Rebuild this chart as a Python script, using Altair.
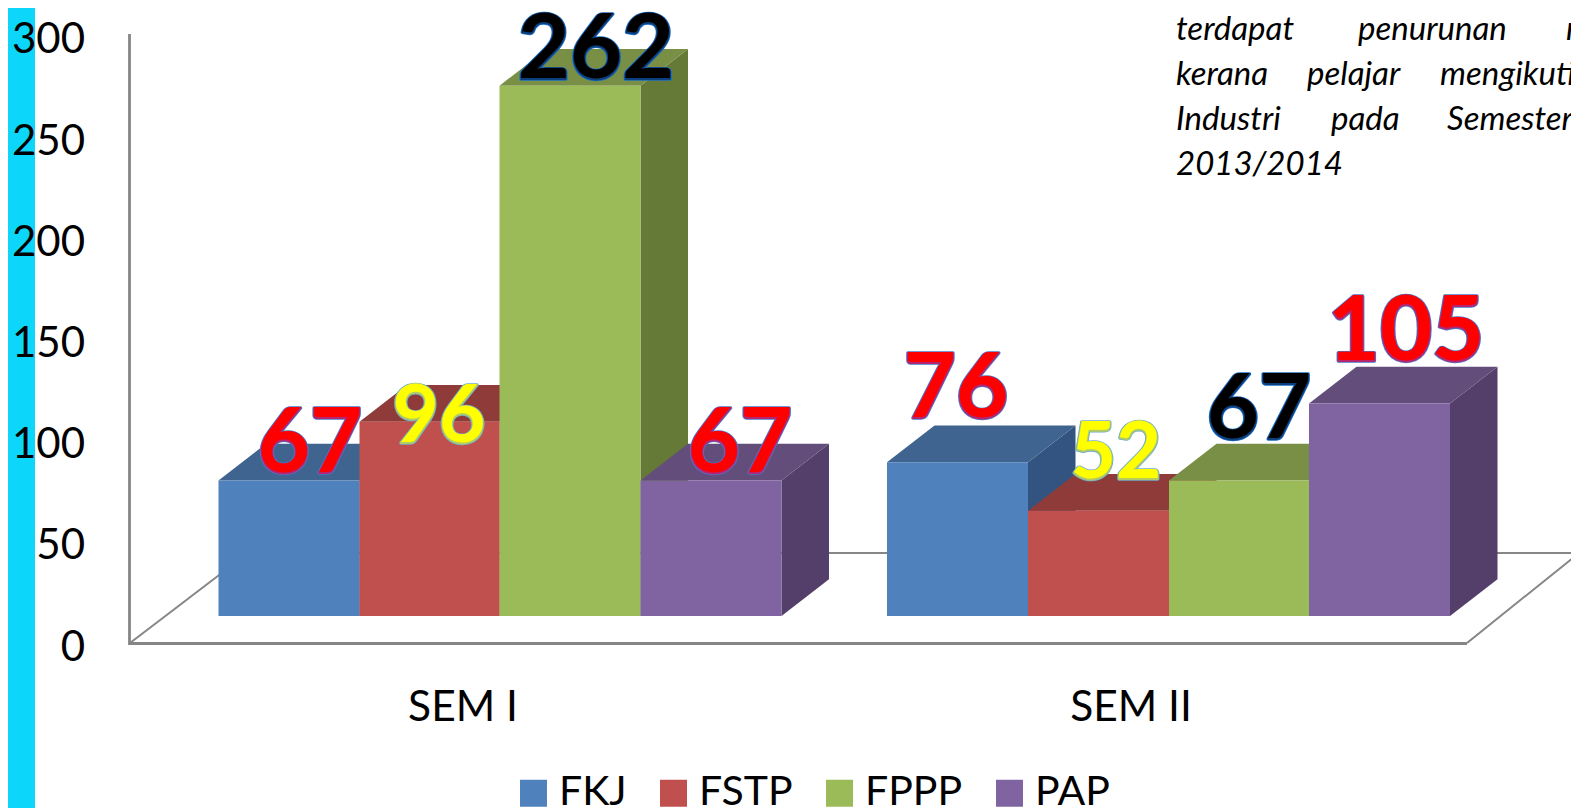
import altair as alt
import pandas as pd

# ---- values ----
SEMESTERS = ["SEM I", "SEM II"]
SERIES = ["FKJ", "FSTP", "FPPP", "PAP"]
SEM1 = [67, 96, 262, 67]
SEM2 = [76, 52, 67, 105]
Y_TICKS = [0, 50, 100, 150, 200, 250, 300]
FRONT = ["#4F81BD", "#C0504D", "#9BBB59", "#8064A2"]
TOP = ["#3E648F", "#8E3B3A", "#788F45", "#634D7B"]
SIDE = ["#335480", "#7D3230", "#667A37", "#533F69"]

# ---- layout (page pixels -> scale units) ----
W, H = 1563, 800
Y0_PAGE, PX_PER_UNIT = 643.0, 2.024
def ux(px): return px - 8
def uy(py): return (Y0_PAGE - py) / PX_PER_UNIT
Y_MIN, Y_MAX = uy(8 + H), uy(8)
BASE = uy(616)
DEPTH_Y = 36.7 / PX_PER_UNIT
DEPTH_X = 47.5
EDGES = [[218.5, 359.5, 499.5, 640.5, 781.5], [887, 1028, 1169, 1309, 1450]]

xs = alt.Scale(domain=[0, W], nice=False, zero=False)
ys = alt.Scale(domain=[Y_MIN, Y_MAX], nice=False, zero=False)
y_axis = alt.Axis(values=Y_TICKS, title=None, domain=False, ticks=False, grid=False,
                  labelFont="Lato", labelFontSize=42, labelColor="black", labelPadding=0,
                  offset=-ux(84.5), zindex=1, labelFlush=False, labelOverlap=False,
                  labelBaseline="middle", labelOffset=4)
X = alt.X("x:Q", scale=xs, axis=None)
Y = alt.Y("y:Q", scale=ys, axis=y_axis)

layers = []

# left strip
strip = pd.DataFrame({"x": [0], "x2": [ux(35)], "y": [Y_MIN], "y2": [Y_MAX]})
layers.append(alt.Chart(strip).mark_rect(color="#0CD7FB").encode(X, alt.X2("x2:Q"), Y, alt.Y2("y2:Q")))

# walls / floor
def polyline(pts, width):
    df = pd.DataFrame({"x": [ux(p[0]) for p in pts], "y": [uy(p[1]) for p in pts], "o": range(len(pts))})
    return alt.Chart(df).mark_line(color="#868686", strokeWidth=width, clip=False).encode(X, Y, order="o:Q")

layers.append(polyline([(129.5, 34), (129.5, 643.5), (1467, 643.5)], 2.8))
layers.append(polyline([(130, 643), (248, 553)], 2))
layers.append(polyline([(1467, 643), (1579, 553)], 2))
layers.append(polyline([(248, 553), (1579, 553)], 2))

# 3-D bars, painted left to right
for g, vals in enumerate([SEM1, SEM2]):
    for i, v in enumerate(vals):
        xl, xr = ux(EDGES[g][i]), ux(EDGES[g][i + 1])
        top = BASE + v
        side = pd.DataFrame({"x": [xr, xr + DEPTH_X], "y": [top, top + DEPTH_Y],
                             "y2": [BASE, BASE + DEPTH_Y]})
        layers.append(alt.Chart(side).mark_area(color=SIDE[i], orient="vertical").encode(X, Y, alt.Y2("y2:Q")))
        cap = pd.DataFrame({"y": [top, top + DEPTH_Y], "x": [xl, xl + DEPTH_X],
                            "x2": [xr, xr + DEPTH_X]})
        layers.append(alt.Chart(cap).mark_area(color=TOP[i], orient="horizontal").encode(Y, X, alt.X2("x2:Q")))
        front = pd.DataFrame({"x": [xl], "x2": [xr], "y": [top], "y2": [BASE], "s": [SERIES[i]]})
        layers.append(alt.Chart(front).mark_rect().encode(
            X, alt.X2("x2:Q"), Y, alt.Y2("y2:Q"),
            color=alt.Color("s:N", sort=SERIES,
                            scale=alt.Scale(domain=SERIES, range=FRONT),
                            legend=alt.Legend(
                                orient="none", legendX=ux(513), legendY=ux(772.5),
                                direction="horizontal", columns=4, title=None,
                                symbolType="square", symbolSize=729, symbolStrokeWidth=0,
                                labelFont="Lato", labelFontSize=41, labelColor="black",
                                labelOffset=5, columnPadding=26, labelLimit=300)),
        ))

# category labels
cats = pd.DataFrame({"x": [ux(463), ux(1131)], "y": [uy(721), uy(721)], "t": SEMESTERS})
layers.append(alt.Chart(cats).mark_text(font="Lato", fontSize=42.5, color="black", align="center",
                                        baseline="alphabetic").encode(X, Y, text="t:N"))

# value labels with outlined digits
LBL_TEXT = SEM1 + SEM2
LBL_CX = [310, 439, 596, 740, 956, 1116, 1259, 1406]
LBL_BASE = [473, 443, 79, 473, 418, 479, 439, 361]
LBL_SIZE = [90, 80, 90, 90, 90, 78, 90, 90]
LBL_FILL = ["#FF0000", "#FFFF00", "#000000", "#FF0000", "#FF0000", "#FFFF00", "#000000", "#FF0000"]
LBL_MID = ["#B8246E", "#B5CC62", "#0C3F7E", "#B8246E", "#B8246E", "#B5CC62", "#0C3F7E", "#B8246E"]
LBL_EDGE = ["#4A78C8", "#6FAEC8", "#1B6CC0", "#4A78C8", "#4A78C8", "#6FAEC8", "#1B6CC0", "#4A78C8"]
lbl = pd.DataFrame({"x": [ux(c) for c in LBL_CX], "y": [uy(b) for b in LBL_BASE],
                    "t": [str(v) for v in LBL_TEXT], "size": LBL_SIZE,
                    "fill": LBL_FILL, "mid": LBL_MID, "edge": LBL_EDGE})
common = dict(font="Lato", fontWeight="bold", align="center", baseline="alphabetic")
layers.append(alt.Chart(lbl).mark_text(strokeWidth=3.5, strokeJoin="round", **common).encode(
    X, Y, text="t:N", size=alt.Size("size:Q", scale=None),
    fill=alt.Fill("edge:N", scale=None), stroke=alt.Stroke("edge:N", scale=None)))
layers.append(alt.Chart(lbl).mark_text(strokeWidth=1.8, strokeJoin="round", **common).encode(
    X, Y, text="t:N", size=alt.Size("size:Q", scale=None),
    fill=alt.Fill("mid:N", scale=None), stroke=alt.Stroke("mid:N", scale=None)))
layers.append(alt.Chart(lbl).mark_text(dy=-1, **common).encode(
    X, Y, text="t:N", size=alt.Size("size:Q", scale=None),
    fill=alt.Fill("fill:N", scale=None)))

# side note, justified word by word and running off the page
NOTE_WORDS = ["terdapat", "penurunan", "m", "kerana", "pelajar", "mengikuti",
              "Industri", "pada", "Semester", "2013/2014"]
NOTE_X = [1176, 1358, 1566, 1176, 1307, 1440, 1176, 1331, 1447, 1176]
NOTE_Y = [40, 40, 40, 85, 85, 85, 130, 130, 130, 175]
note = pd.DataFrame({"x": [ux(a) for a in NOTE_X], "y": [uy(b) for b in NOTE_Y], "t": NOTE_WORDS})
layers.append(alt.Chart(note).mark_text(font="Lato", fontStyle="italic", fontSize=33, color="black",
                                        align="left", baseline="alphabetic").encode(X, Y, text="t:N"))

chart = alt.layer(*layers).resolve_scale(x="shared", y="shared", color="shared").properties(
    width=W, height=H, padding=0,
    autosize=alt.AutoSizeParams(type="none"),
    background="white",
).configure_view(stroke=None)

chart.save("out.html", embed_options={"renderer": "svg", "actions": False})
